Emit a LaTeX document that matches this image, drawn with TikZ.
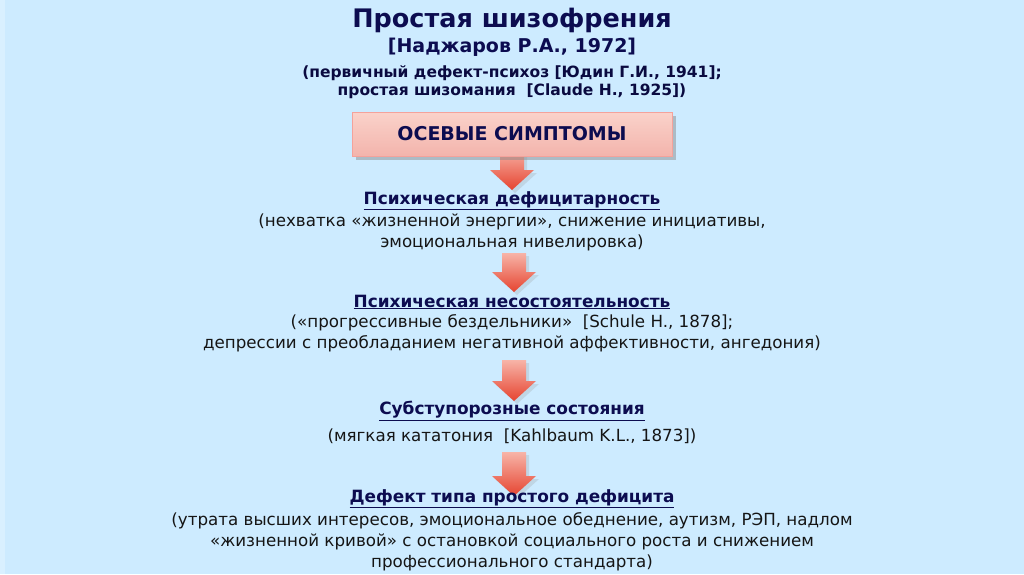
\documentclass[tikz,border=0pt]{standalone}
\usepackage{fontspec}
\setmainfont{DejaVu Sans}
\usetikzlibrary{shadows}
\definecolor{bg}{HTML}{CDEBFF}
\definecolor{navy}{HTML}{0C0C50}
\definecolor{body}{HTML}{151515}
\definecolor{boxtop}{HTML}{FAD2CA}
\definecolor{boxbot}{HTML}{F3B4AC}
\definecolor{arrtop}{HTML}{F7B4A8}
\definecolor{arrbot}{HTML}{E64430}
\tikzset{
  titletext/.style={font=\bfseries\fontsize{25.5}{28}\selectfont, text=navy, align=center},
  subtext/.style={font=\bfseries\fontsize{19}{21}\selectfont, text=navy, align=center},
  notetext/.style={font=\bfseries\fontsize{15.5}{18}\selectfont, text=navy!80!black, align=center},
  headtext/.style={font=\bfseries\fontsize{16.9}{19}\selectfont, text=navy, align=center},
  bodytext/.style={font=\fontsize{16.7}{21}\selectfont, text=body, align=center},
  axisbox/.style={minimum width=320pt, minimum height=44pt, top color=boxtop, bottom color=boxbot,
     draw=boxbot!90!red, line width=0.6pt, drop shadow={shadow xshift=4pt, shadow yshift=-4pt, fill=black!45, opacity=0.5},
     font=\bfseries\fontsize{19}{21}\selectfont, text=navy},
  downarrow/.style={top color=arrtop, bottom color=arrbot, draw=none},
  arrshadow/.style={fill=black!40, opacity=0.25}
}
\newcommand{\blockarrow}[3]{% x, ytop, ytip
  \pgfmathsetmacro{\hb}{#3-20}
  \fill[arrshadow] (#1-12+3,-#2-3) -- (#1+12+3,-#2-3) -- (#1+12+3,-\hb-3) -- (#1+22+3,-\hb-3) -- (#1+3,-#3-3) -- (#1-22+3,-\hb-3) -- (#1-12+3,-\hb-3) -- cycle;
  \shade[downarrow] (#1-12,-#2) -- (#1+12,-#2) -- (#1+12,-\hb) -- (#1+22,-\hb) -- (#1,-#3) -- (#1-22,-\hb) -- (#1-12,-\hb) -- cycle;
}
\begin{document}
\begin{tikzpicture}[x=1pt,y=1pt]
\fill[bg] (0,0) rectangle (1024,-574);
\fill[white,opacity=0.25] (0,0) rectangle (5,-574);
\useasboundingbox (0,0) rectangle (1024,-574);

\node[titletext] (title) at (512,-20) {Простая шизофрения};
\node[subtext] (author) at (512,-47) {[Наджаров Р.А., 1972]};
\node[notetext] (note) at (512,-82) {(первичный дефект-психоз [Юдин Г.И., 1941];\\простая шизомания~~[Claude H., 1925])};

% arrows
\blockarrow{512}{148}{190}
\blockarrow{514}{253}{292}
\blockarrow{514}{360}{401}
\blockarrow{514}{452}{496}

\node[axisbox] (axis) at (512,-134) {ОСЕВЫЕ СИМПТОМЫ};

\node[headtext] (h1) at (512,-201) {\underline{Психическая дефицитарность}};
\node[bodytext] (b1) at (512,-232) {(нехватка «жизненной энергии», снижение инициативы,\\эмоциональная нивелировка)};

\node[headtext] (h2) at (512,-302) {\underline{Психическая несостоятельность}};
\node[bodytext] (b2) at (512,-333.5) {(«прогрессивные бездельники»~~[Schule H., 1878];\\депрессии с преобладанием негативной аффективности, ангедония)};

\node[headtext] (h3) at (512,-411) {\underline{Субступорозные состояния}};
\node[bodytext] (b3) at (512,-436) {(мягкая кататония~~[Kahlbaum K.L., 1873])};

\node[headtext] (h4) at (512,-499) {\underline{Дефект типа простого дефицита}};
\node[bodytext] (b4) at (512,-542) {(утрата высших интересов, эмоциональное обеднение, аутизм, РЭП, надлом\\«жизненной кривой» с остановкой социального роста и снижением\\профессионального стандарта)};
\end{tikzpicture}
\end{document}
